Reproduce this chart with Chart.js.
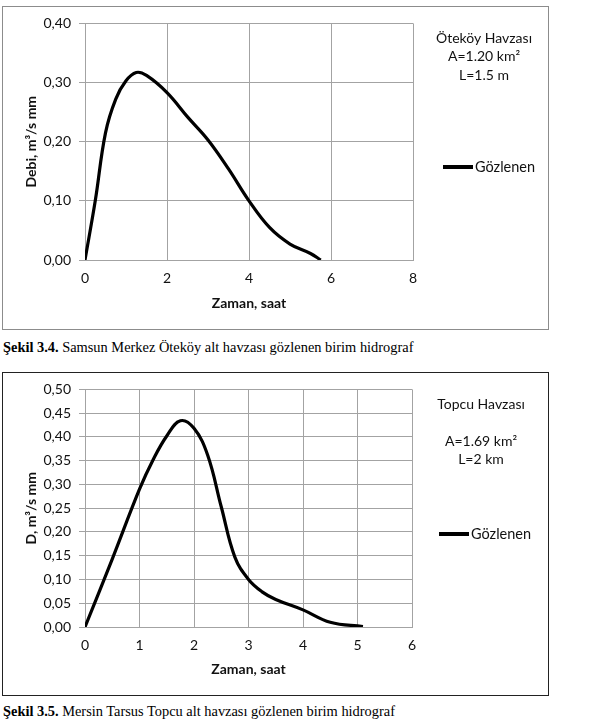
<!DOCTYPE html>
<html>
<head>
<meta charset="utf-8">
<script src="https://cdn.jsdelivr.net/npm/chart.js@4.4.1/dist/chart.umd.min.js"></script>
<style>
  html, body { margin: 0; padding: 0; background: #fff; width: 615px; height: 719px; overflow: hidden; }
  .frame { position: absolute; left: 2px; width: 545px; height: 322px; }
  #f1 { top: 6px; border: 1px solid #8c8c8c; }
  #f2 { top: 372px; border: 1px solid #222; }
  .cap { position: absolute; left: 3px; font-family: "Liberation Serif", "Times New Roman", serif; font-size: 14.4px; color: #000; white-space: nowrap; }
</style>
</head>
<body>
<div class="frame" id="f1"><canvas id="c1" width="545" height="322"></canvas></div>
<div class="cap" style="top:339px;"><b>Şekil 3.4.</b> Samsun Merkez Öteköy alt havzası gözlenen birim hidrograf</div>
<div class="frame" id="f2"><canvas id="c2" width="545" height="322"></canvas></div>
<div class="cap" style="top:703px;"><b>Şekil 3.5.</b> Mersin Tarsus Topcu alt havzası gözlenen birim hidrograf</div>
<script>
// ---- Data: Şekil 3.4 (Öteköy) ----
const timeOtekoy = [0, 0.25, 0.5, 0.75, 1.0, 1.25, 1.5, 2.0, 2.5, 3.0, 3.5, 4.0, 4.5, 5.0, 5.5, 5.75];
const flowOtekoy = [0, 0.10, 0.215, 0.272, 0.303, 0.317, 0.312, 0.283, 0.242, 0.203, 0.154, 0.100, 0.055, 0.027, 0.011, 0];
const infoOtekoy = ['Öteköy Havzası', 'A=1.20 km²', 'L=1.5 m'];

// ---- Data: Şekil 3.5 (Topcu) ----
const timeTopcu = [0, 0.5, 1.0, 1.25, 1.5, 1.75, 2.0, 2.25, 2.5, 2.75, 3.0, 3.25, 3.5, 4.0, 4.5, 5.1];
const flowTopcu = [0, 0.143, 0.29, 0.352, 0.402, 0.434, 0.418, 0.362, 0.253, 0.147, 0.100, 0.074, 0.058, 0.036, 0.010, 0.001];
const infoTopcu = ['Topcu Havzası', '', 'A=1.69 km²', 'L=2 km'];

const seriesName = 'Gözlenen';
const FONT = "Lato, 'Open Sans', sans-serif";
const GRID = '#a3a3a3';

function fmt(v) { return v.toFixed(2).replace('.', ','); }

function sidePlugin(info, lineYs, textDX, legendY, legendX0) {
  return {
    id: 'side',
    afterDraw(chart) {
      const ctx = chart.ctx, a = chart.chartArea;
      ctx.save();
      ctx.fillStyle = '#111';
      ctx.font = '14px ' + FONT;
      ctx.textAlign = 'center';
      ctx.textBaseline = 'middle';
      info.forEach((t, i) => { if (t) ctx.fillText(t, a.right + textDX, a.top + lineYs[i]); });
      // legend
      ctx.strokeStyle = '#000';
      ctx.lineWidth = 4;
      ctx.beginPath();
      ctx.moveTo(a.right + legendX0, legendY);
      ctx.lineTo(a.right + legendX0 + 30, legendY);
      ctx.stroke();
      ctx.textAlign = 'left';
      ctx.font = '14.5px ' + FONT;
      ctx.fillText(chart.data.datasets[0].label, a.right + legendX0 + 32, legendY);
      ctx.restore();
    }
  };
}

function makeChart(id, xs, ys, xMax, xStep, yMax, yStep, yTitle, padTop, padRight, xH, plugin) {
  const pts = xs.map((x, i) => ({ x: x, y: ys[i] }));
  return new Chart(document.getElementById(id), {
    type: 'scatter',
    data: { datasets: [{ label: seriesName, data: pts, showLine: true, borderColor: '#000', borderWidth: 3.2, pointRadius: 0, tension: 0.4, fill: false }] },
    options: {
      responsive: false, animation: false,
      layout: { padding: { left: 0, top: padTop, right: padRight, bottom: 0 } },
      plugins: { legend: { display: false }, tooltip: { enabled: false } },
      scales: {
        x: {
          type: 'linear', min: 0, max: xMax,
          ticks: { stepSize: xStep, padding: 10, color: '#111', font: { family: FONT, size: 14 } },
          grid: { color: GRID, drawTicks: false },
          border: { color: GRID },
          title: { display: true, text: 'Zaman, saat', color: '#111', font: { family: FONT, size: 14, weight: 'bold' }, padding: { top: 0, bottom: 17 } },
          afterFit(s) { s.height = xH; }
        },
        y: {
          min: 0, max: yMax,
          ticks: { stepSize: yStep, padding: 8, color: '#111', font: { family: FONT, size: 14 }, callback: v => fmt(v) },
          grid: { color: GRID, tickLength: 6 },
          border: { color: GRID },
          title: { display: true, text: yTitle, color: '#111', font: { family: FONT, size: 14, weight: 'bold' }, padding: { top: 20, bottom: 0 } },
          afterFit(s) { s.width = 82; }
        }
      }
    },
    plugins: [plugin]
  });
}

makeChart('c1', timeOtekoy, flowOtekoy, 8, 2, 0.4, 0.1, 'Debi, m³/s mm', 15, 135, 69,
  sidePlugin(infoOtekoy, [15, 33, 52], 71, 160, 30));
makeChart('c2', timeTopcu, flowTopcu, 6, 1, 0.5, 0.05, 'D, m³/s mm', 16, 136, 68,
  sidePlugin(infoTopcu, [15, 33, 52, 70], 69, 161, 27));
</script>
</body>
</html>
